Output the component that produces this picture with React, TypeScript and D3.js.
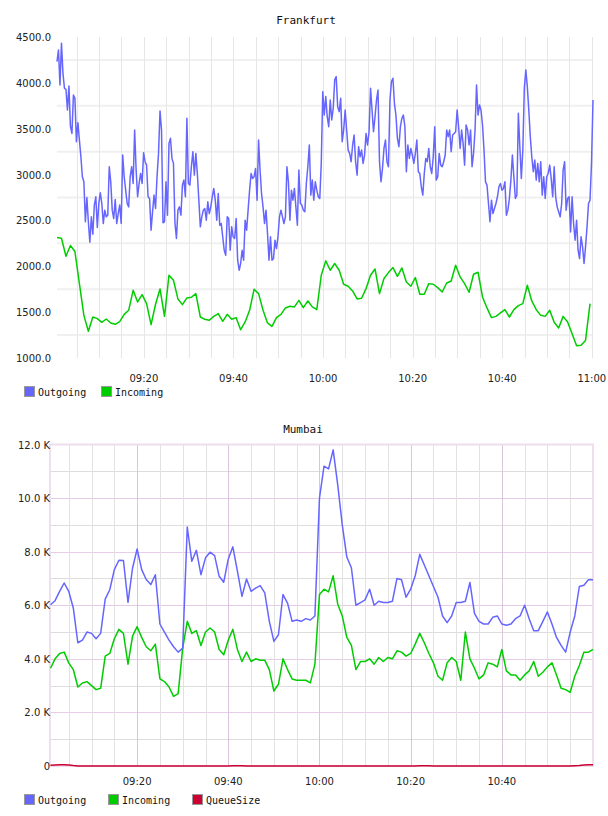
import * as d3 from "d3";

// Frankfurt: outgoing sampled every 20 s, incoming every minute, starting 09:00:36
const frankfurtOutgoing = [
  4232, 4359, 3977, 4432, 4104, 3941, 3930, 3704, 3966, 3522,
  3449, 3868, 3831, 3358, 3566, 3376, 3194, 2976, 2921, 2485,
  2750, 2485, 2262, 2539, 2350, 2667, 2758, 2423, 2685, 2801,
  2685, 2466, 2612, 2539, 2557, 3085, 2921, 2612, 2521, 2728,
  2466, 2575, 2667, 2466, 3213, 2976, 2830, 2685, 2648, 2976,
  3085, 2903, 3486, 3049, 2758, 2903, 3012, 2903, 3238, 3140,
  3103, 2758, 2739, 2394, 2594, 2776, 2630, 2976, 3231, 3693,
  3486, 2474, 2485, 2921, 2557, 3340, 3395, 3176, 3122, 2474,
  2303, 2612, 2648, 2557, 2885, 2940, 2758, 3613,
  2903, 2885, 3085, 3249, 2994, 3231, 3012, 2721, 2430, 2539,
  2612, 2630, 2503, 2703, 2575, 2648, 2758, 2849, 2721, 2503,
  2794, 2448, 2466, 2321, 2175, 2121, 2539, 2521, 2175, 2430,
  2321, 2303, 2521, 2066, 1957, 2030, 2175, 2066, 2503, 2394,
  2612, 2830, 3012, 2958, 2976, 3067, 2721, 3376, 3049, 2794,
  2648, 2466, 2612, 2357, 2066, 2321, 2066, 2084, 2284, 2193,
  2321, 2539, 2612, 2539, 2466, 2539, 3085, 2921, 2503, 2830,
  2721, 2849, 2648, 2448, 3049, 2685, 2667, 2612, 2594, 2903,
  3085, 3322, 2776, 2940, 2721, 2921, 2830, 2758, 2739, 3122,
  3904,
  3649, 3850, 3631, 3522, 3813, 3595, 3722, 4032, 4068, 3740,
  3686, 3831, 3358, 3486, 3704, 3486, 3267, 3231, 3140, 3322,
  3431, 3140, 2994, 3304, 3194, 3267, 3122, 3213, 3449, 3322,
  3467, 3941, 3704, 3467, 3631, 3813, 3922, 3140, 2921, 3067,
  3285, 3376, 3140, 3085, 3813, 4013, 4050, 3777, 3649, 3395,
  3304, 3522, 3613, 3649, 3522, 3031, 3322, 3176, 3285, 3213,
  3122, 3231, 3376, 3031, 3012, 2867, 2776, 3012, 3176, 3140,
  3285, 3085, 3012, 3194, 3522, 2940, 2976, 3231, 3103, 3085,
  3140, 3213, 3486, 3413, 3486, 3249, 3431, 3449, 3467, 3704,
  3522, 3285, 3486, 3340, 3103, 3540, 3486, 3322, 3486, 3085,
  3231, 3486, 3977, 3649, 3759, 3704, 3540, 3267, 2921, 2885,
  2685, 2485, 2721, 2575, 2630, 2685, 2758, 2867, 2903, 2830,
  2849, 2921, 2557, 2612, 2739, 2940, 3213, 2976, 2739, 2776,
  3668, 3304, 2958, 3267, 3941, 4141, 3959, 3704, 3413, 3194,
  3031, 3158, 2940, 3122, 2921, 3140, 2776, 2976, 2739, 2976,
  3012, 3103, 2958, 2758, 3085, 2758, 2648, 2594, 2539, 2685,
  3049, 3140, 2612, 2739, 2758, 2375, 2758, 2466, 2284, 2503,
  2175, 2084, 2321, 2212, 2030, 2212, 2430, 2685, 2721, 3122,
  3813,
];

const frankfurtIncoming = [
  2314, 2306, 2110, 2226, 2161, 1811, 1465, 1291, 1447, 1429,
  1389, 1425, 1382, 1367, 1396, 1476, 1520, 1738, 1611, 1691,
  1593, 1364, 1586, 1753, 1454, 1902, 1848, 1644, 1582, 1655,
  1662, 1702, 1447, 1422, 1411, 1454, 1484, 1400, 1476, 1422,
  1440, 1309, 1393, 1520, 1749, 1702, 1520, 1382, 1345, 1440,
  1476, 1546, 1564, 1557, 1629, 1549, 1622, 1557, 1527, 1902,
  2059, 1957, 2030, 1957, 1804, 1782, 1731, 1644, 1651, 1757,
  1902, 1971, 1702, 1866, 1931, 1986, 1891, 1982, 1829, 1782,
  1877, 1695, 1695, 1811, 1804, 1767, 1720, 1818, 1840, 2012,
  1884, 1811, 1717, 1913, 1935, 1666, 1546, 1440, 1454, 1491,
  1527, 1447, 1527, 1571, 1593, 1793, 1622, 1527, 1465, 1454,
  1520, 1389, 1327, 1454, 1393, 1265, 1134, 1138, 1192, 1593,
];

// Mumbai: one sample per minute from 09:01 to 11:00, values in thousands
const mumbaiOutgoing = [
  6.02, 6.17, 6.52, 6.83, 6.52, 5.9, 4.6, 4.7, 5.0, 4.95,
  4.75, 4.95, 6.23, 6.58, 7.33, 7.68, 7.67, 6.11, 7.39, 8.1,
  7.33, 6.96, 6.77, 7.14, 5.3, 5.0, 4.7, 4.45, 4.25, 4.4,
  8.92, 7.64, 8.05, 7.14, 7.77, 7.98, 7.85, 7.08, 6.86, 7.73,
  8.18, 7.27, 6.33, 6.98, 6.52, 6.64, 6.73, 6.46, 5.4, 4.65,
  4.9, 6.4, 6.08, 5.4, 5.45, 5.4, 5.5, 5.45, 5.6, 10.0,
  11.19, 11.09, 11.8, 10.5, 9.0, 7.8, 7.4, 6.0, 6.1, 6.2,
  6.6, 6.0, 6.15, 6.1, 6.1, 6.15, 7.0, 6.95, 6.3, 6.6,
  7.1, 7.9, 7.5, 7.1, 6.7, 6.3, 5.6, 5.35, 5.6, 6.1,
  6.1, 6.15, 6.85, 5.7, 5.4, 5.3, 5.3, 5.55, 5.6, 5.3,
  5.25, 5.3, 5.5, 5.6, 6.0, 5.5, 5.05, 5.05, 5.4, 5.75,
  5.3, 4.8, 4.5, 4.25, 5.0, 5.6, 6.7, 6.75, 6.95, 6.95,
];

const mumbaiIncoming = [
  3.65, 4.0, 4.2, 4.25, 3.85, 3.6, 2.95, 3.1, 3.15, 3.0,
  2.85, 2.9, 4.1, 4.2, 4.75, 5.1, 4.95, 3.8, 4.85, 5.2,
  4.8, 4.45, 4.3, 4.55, 3.25, 3.15, 2.95, 2.6, 2.7, 4.4,
  5.4, 4.95, 5.05, 4.5, 5.0, 5.15, 5.0, 4.35, 4.15, 4.7,
  5.1, 4.35, 3.9, 4.25, 3.9, 4.0, 3.95, 3.95, 3.6, 2.8,
  3.05, 4.0, 3.6, 3.25, 3.2, 3.2, 3.2, 3.1, 3.8, 6.4,
  6.6, 6.5, 7.1, 6.05, 5.6, 4.8, 4.5, 3.6, 3.9, 3.9,
  4.0, 3.8, 4.05, 3.9, 4.05, 4.0, 4.3, 4.25, 4.1, 4.2,
  4.55, 4.95, 4.6, 4.2, 3.85, 3.35, 3.2, 3.85, 4.05, 3.9,
  3.2, 5.0, 4.0, 3.65, 3.25, 3.4, 3.85, 3.8, 3.7, 4.35,
  3.55, 3.4, 3.4, 3.2, 3.4, 3.55, 3.9, 3.35, 3.5, 3.7,
  3.85, 3.4, 2.9, 2.85, 2.75, 3.35, 3.75, 4.25, 4.25, 4.35,
];

const mumbaiQueueSize = [
  0.03, 0.04, 0.045, 0.05, 0.035, 0.015, 0, 0, 0, 0, 0, 0, 0, 0, 0, 0, 0, 0, 0, 0,
  0, 0, 0, 0, 0, 0, 0, 0, 0, 0, 0, 0, 0, 0, 0, 0, 0, 0, 0, 0,
  0.005, 0.01, 0.005, 0, 0, 0, 0, 0, 0, 0, 0, 0, 0, 0, 0, 0, 0, 0, 0, 0,
  0, 0, 0, 0, 0, 0, 0, 0, 0, 0, 0, 0, 0, 0, 0, 0, 0, 0, 0, 0,
  0, 0.005, 0.01, 0.005, 0, 0, 0, 0, 0, 0, 0, 0, 0, 0, 0, 0, 0, 0, 0, 0,
  0, 0, 0, 0, 0, 0, 0, 0, 0, 0, 0, 0, 0, 0, 0, 0.01, 0.02, 0.035, 0.05, 0.05,
];

const frankfurtTimeTicks = ["09:20", "09:40", "10:00", "10:20", "10:40", "11:00"];
const mumbaiTimeTicks = ["09:20", "09:40", "10:00", "10:20", "10:40"];
const frankfurtValueTicks = [1000, 1500, 2000, 2500, 3000, 3500, 4000, 4500];
const mumbaiValueTicks = [0, 2, 4, 6, 8, 10, 12];

const BLUE = "#6666ff";
const GREEN = "#00cc00";
const RED = "#cc0033";
const mono = "'DejaVu Sans Mono', monospace";
const sans = "'DejaVu Sans', Verdana, sans-serif";

const hm = d3.timeParse("%H:%M:%S");
const parseTick = (s: string) => hm(s + ":00") as Date;

function series(start: Date, stepSec: number, values: number[]) {
  return values.map((v, i) => ({ t: new Date(start.getTime() + i * stepSec * 1000), v }));
}

function Legend(props: { y: number; items: { label: string; color: string; x: number }[] }) {
  return (
    <g>
      {props.items.map((it) => (
        <g key={it.label}>
          <rect x={it.x + 0.5} y={props.y - 5.5} width={10} height={10} fill={it.color} stroke="#999" />
          <text x={it.x + 14} y={props.y + 4} fontFamily={mono} fontSize={10} fill="#111">
            {it.label}
          </text>
        </g>
      ))}
    </g>
  );
}

function Frankfurt() {
  const start = hm("09:00:36") as Date;
  const out = series(start, 20, frankfurtOutgoing);
  const inc = series(start, 60, frankfurtIncoming);
  const end = out[out.length - 1].t;
  const x = d3.scaleTime().domain([start, end]).range([57, 593]);
  const y = d3.scaleLinear().domain([1000, 4500]).range([358, 37]);
  const line = d3
    .line<{ t: Date; v: number }>()
    .x((d) => x(d.t))
    .y((d) => y(d.v));
  const vGrid = d3.timeMinute.every(5)!.range(parseTick("09:05"), new Date(end.getTime() + 1));
  const hGrid = d3.range(1250, 4500, 500);

  return (
    <g>
      <text x={306} y={24} textAnchor="middle" fontFamily={mono} fontSize={11} fill="#111">
        Frankfurt
      </text>
      {hGrid.map((v) => (
        <line key={v} x1={57} x2={593} y1={y(v)} y2={y(v)} stroke="#f0f0f0" strokeWidth={2} />
      ))}
      {vGrid.map((t) => (
        <line key={+t} x1={Math.round(x(t)) + 0.5} x2={Math.round(x(t)) + 0.5} y1={37} y2={358} stroke="#e6e6e6" />
      ))}
      {frankfurtValueTicks.map((v) => (
        <text key={v} x={51} y={y(v) + 4} textAnchor="end" fontFamily={sans} fontSize={10} fill="#222">
          {v.toFixed(1)}
        </text>
      ))}
      {frankfurtTimeTicks.map((s) => (
        <text key={s} x={x(parseTick(s))} y={382} textAnchor="middle" fontFamily={sans} fontSize={10} fill="#222">
          {s}
        </text>
      ))}
      <path d={line(inc) ?? ""} fill="none" stroke={GREEN} strokeWidth={1.5} strokeLinejoin="round" />
      <path d={line(out) ?? ""} fill="none" stroke={BLUE} strokeWidth={1.5} strokeLinejoin="round" />
      <Legend
        y={392}
        items={[
          { label: "Outgoing", color: BLUE, x: 24 },
          { label: "Incoming", color: GREEN, x: 101 },
        ]}
      />
    </g>
  );
}

function Mumbai() {
  const start = parseTick("09:01");
  const end = parseTick("11:00");
  const out = series(start, 60, mumbaiOutgoing);
  const inc = series(start, 60, mumbaiIncoming);
  const queue = series(start, 60, mumbaiQueueSize);
  const x = d3.scaleTime().domain([start, end]).range([50.5, 593]);
  const y = d3.scaleLinear().domain([0, 12]).range([766, 444.5]);
  const line = d3
    .line<{ t: Date; v: number }>()
    .x((d) => x(d.t))
    .y((d) => y(d.v));
  const vGrid = d3.timeMinute.every(5)!.range(parseTick("09:05"), end);
  const hGrid = d3.range(1, 12, 1);

  return (
    <g>
      <text x={303} y={433} textAnchor="middle" fontFamily={mono} fontSize={11} fill="#111">
        Mumbai
      </text>
      {hGrid.map((v) => (
        <line
          key={v}
          x1={50}
          x2={593}
          y1={Math.round(y(v)) + 0.5}
          y2={Math.round(y(v)) + 0.5}
          stroke={v % 2 === 0 ? "#e6cce6" : "#dddddd"}
        />
      ))}
      {vGrid.map((t) => (
        <line
          key={+t}
          x1={Math.round(x(t)) + 0.5}
          x2={Math.round(x(t)) + 0.5}
          y1={444}
          y2={766}
          stroke={t.getMinutes() % 20 === 0 ? "#dcc4dc" : "#e2e2e2"}
        />
      ))}
      <rect x={50} y={444.5} width={543} height={321.5} fill="none" stroke="#eedeee" strokeWidth={2} />
      {mumbaiValueTicks.map((v) => (
        <text key={v} x={50} y={y(v) + 4} textAnchor="end" fontFamily={sans} fontSize={10} fill="#222">
          {v === 0 ? "0" : `${v.toFixed(1)} K`}
        </text>
      ))}
      {mumbaiTimeTicks.map((s) => (
        <text key={s} x={x(parseTick(s))} y={785} textAnchor="middle" fontFamily={sans} fontSize={10} fill="#222">
          {s}
        </text>
      ))}
      <path d={line(inc) ?? ""} fill="none" stroke={GREEN} strokeWidth={1.5} strokeLinejoin="round" />
      <path d={line(out) ?? ""} fill="none" stroke={BLUE} strokeWidth={1.5} strokeLinejoin="round" />
      <path d={line(queue) ?? ""} fill="none" stroke={RED} strokeWidth={1.5} strokeLinejoin="round" />
      <Legend
        y={800}
        items={[
          { label: "Outgoing", color: BLUE, x: 24 },
          { label: "Incoming", color: GREEN, x: 108 },
          { label: "QueueSize", color: RED, x: 192 },
        ]}
      />
    </g>
  );
}

export default function App() {
  return (
    <svg
      width={608}
      height={816}
      viewBox="0 0 608 816"
      style={{ position: "absolute", left: 0, top: 0, background: "#fff" }}
    >
      <Frankfurt />
      <Mumbai />
    </svg>
  );
}
